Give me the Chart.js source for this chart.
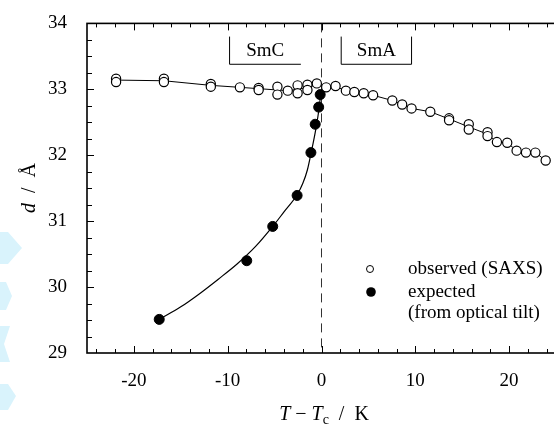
<!DOCTYPE html>
<html>
<head>
<meta charset="utf-8">
<script src="https://cdn.jsdelivr.net/npm/chart.js@4.4.0/dist/chart.umd.min.js"></script>
<style>
html, body { margin: 0; padding: 0; background: #fff; overflow: hidden; }
#wrap { position: relative; width: 562px; height: 435px; }
</style>
</head>
<body>
<div id="wrap"><canvas id="chart"></canvas></div>
<script>
// observed layer spacing (SAXS) - open circles, T - Tc in K, d in Angstrom
const obsT = [-21.9, -21.9, -16.8, -16.8, -11.8, -11.8, -8.7, -6.7, -6.7, -4.7, -4.7, -3.6,
  -2.55, -2.55, -1.5, -1.5, -0.5, 0.5, 1.5, 2.6, 3.5, 4.5, 5.5, 7.55, 8.6, 9.6, 11.6,
  13.6, 13.6, 15.7, 15.7, 17.7, 17.7, 18.7, 19.8, 20.8, 21.8, 22.8, 23.9];
const obsD = [33.16, 33.11, 33.16, 33.11, 33.08, 33.04, 33.03, 33.02, 32.99, 33.04, 32.92, 32.98,
  33.06, 32.94, 33.07, 32.99, 33.09, 33.03, 33.05, 32.98, 32.96, 32.94, 32.91, 32.83, 32.77, 32.71, 32.66,
  32.56, 32.53, 32.47, 32.39, 32.35, 32.29, 32.20, 32.19, 32.07, 32.04, 32.04, 31.92];

// thin guide line through the observed points
const obsLineT = [-21.9, -16.8, -11.8, -8.7, -6.7, -4.7, -3.6, -2.55, -1.5, -0.5, 0.5, 1.5, 2.6,
  3.5, 4.5, 5.5, 7.55, 8.6, 9.6, 11.6, 13.6, 15.7, 17.7, 18.7, 19.8, 20.8, 21.8, 22.8, 23.9];
const obsLineD = [33.14, 33.13, 33.06, 33.03, 33.01, 32.99, 32.98, 33.0, 33.03, 33.07, 33.04, 33.04, 32.98,
  32.96, 32.94, 32.91, 32.83, 32.77, 32.71, 32.66, 32.55, 32.43, 32.32, 32.20, 32.19, 32.07, 32.04, 32.04, 31.92];

// expected from optical tilt - filled circles
const expT = [-17.3, -7.97, -5.2, -2.6, -1.13, -0.67, -0.3, -0.14];
const expD = [29.51, 30.40, 30.92, 31.39, 32.04, 32.47, 32.73, 32.92];

// fitted curve through the expected values
const fitT = [-17.3, -15, -13, -11, -9, -7, -5.2, -4, -2.6, -2, -1.5, -1.13, -0.6, -0.25, -0.05];
const fitD = [29.51, 29.70, 29.90, 30.12, 30.35, 30.62, 30.92, 31.14, 31.40, 31.57, 31.78, 32.02, 32.40, 32.72, 32.98];

const xTickLabels = [-20, -10, 0, 10, 20];
const yTickLabels = [29, 30, 31, 32, 33, 34];
const phaseNames = ["SmC", "SmA"];

const serif = "'Liberation Serif', 'Times New Roman', serif";

const pts = (xs, ys) => xs.map((x, i) => ({ x: x, y: ys[i] }));

// draw text made of parts [text, italic, subscript]
const drawParts = (ctx, parts, x, y, size) => {
  let total = 0;
  const widths = parts.map(p => {
    ctx.font = (p[1] ? "italic " : "") + (p[2] ? size * 0.7 : size) + "px " + serif;
    const w = ctx.measureText(p[0]).width;
    total += w;
    return w;
  });
  let cx = x - total / 2;
  parts.forEach((p, i) => {
    ctx.font = (p[1] ? "italic " : "") + (p[2] ? size * 0.7 : size) + "px " + serif;
    ctx.fillText(p[0], cx, p[2] ? y + size * 0.25 : y);
    cx += widths[i];
  });
};

const decorPlugin = {
  id: "decor",
  beforeDraw(chart) {
    // faint light blue marks at the left edge of the scan
    const ctx = chart.ctx;
    ctx.save();
    ctx.fillStyle = "#d9f3fc";
    const shapes = [
      [[0, 232], [8, 232], [22, 248], [8, 264], [0, 264]],
      [[0, 282], [6, 282], [12, 296], [6, 310], [0, 310]],
      [[0, 326], [10, 326], [4, 344], [10, 362], [0, 362]],
      [[0, 384], [8, 384], [16, 396], [8, 410], [0, 410]],
    ];
    shapes.forEach(s => {
      ctx.beginPath();
      s.forEach((p, i) => (i ? ctx.lineTo(p[0], p[1]) : ctx.moveTo(p[0], p[1])));
      ctx.closePath();
      ctx.fill();
    });
    ctx.restore();
  },
  beforeDatasetsDraw(chart) {
    const { ctx, chartArea: a, scales: { x } } = chart;
    ctx.save();
    // dashed line at the transition
    ctx.strokeStyle = "#333";
    ctx.lineWidth = 1;
    ctx.setLineDash([9, 6]);
    ctx.beginPath();
    ctx.moveTo(x.getPixelForValue(0), a.top);
    ctx.lineTo(x.getPixelForValue(0), a.bottom);
    ctx.stroke();
    ctx.setLineDash([]);
    ctx.restore();
  },
  afterDatasetsDraw(chart) {
    const { ctx, chartArea: a, scales: { x, y } } = chart;
    ctx.save();
    ctx.strokeStyle = "#000";
    ctx.fillStyle = "#000";

    // frame
    ctx.lineWidth = 1.6;
    ctx.strokeRect(a.left, a.top, a.right - a.left, a.bottom - a.top);

    // inward ticks
    ctx.lineWidth = 1;
    ctx.beginPath();
    for (let v = -24; v <= 24; v += 2) {
      const px = Math.round(x.getPixelForValue(v)) + 0.5;
      const len = v % 10 === 0 ? 7 : 4;
      ctx.moveTo(px, a.bottom); ctx.lineTo(px, a.bottom - len);
      ctx.moveTo(px, a.top); ctx.lineTo(px, a.top + len);
    }
    for (let v = 29.25; v < 34; v += 0.25) {
      const py = Math.round(y.getPixelForValue(v)) + 0.5;
      const len = Math.abs(v - Math.round(v)) < 0.01 ? 7 : 5;
      ctx.moveTo(a.left, py); ctx.lineTo(a.left + len, py);
    }
    ctx.stroke();

    // phase boxes
    ctx.lineWidth = 1;
    const yTop = y.getPixelForValue(33.8), yBot = y.getPixelForValue(33.38);
    const c0 = x.getPixelForValue(-9.8), c1 = x.getPixelForValue(-2.2);
    const s0 = x.getPixelForValue(2.1), s1 = x.getPixelForValue(9.6);
    ctx.beginPath();
    ctx.moveTo(c0, yTop); ctx.lineTo(c0, yBot); ctx.lineTo(c1, yBot);
    ctx.moveTo(s0, yTop); ctx.lineTo(s0, yBot); ctx.lineTo(s1, yBot); ctx.lineTo(s1, yTop);
    ctx.stroke();
    ctx.font = "19px " + serif;
    ctx.textAlign = "center";
    ctx.textBaseline = "middle";
    ctx.fillText(phaseNames[0], (c0 + c1) / 2, (yTop + yBot) / 2 + 1);
    ctx.fillText(phaseNames[1], (s0 + s1) / 2, (yTop + yBot) / 2 + 1);

    // legend
    ctx.textAlign = "left";
    ctx.font = "19px " + serif;
    ctx.lineWidth = 1;
    ctx.beginPath();
    ctx.arc(370, 269, 3.5, 0, Math.PI * 2);
    ctx.fillStyle = "#fff"; ctx.fill(); ctx.stroke();
    ctx.fillStyle = "#000";
    ctx.beginPath();
    ctx.arc(371, 292, 4.8, 0, Math.PI * 2);
    ctx.fill();
    ctx.fillText(chart.data.datasets[1].label, 408, 269);
    ctx.fillText("expected", 408, 292);
    ctx.fillText("(from optical tilt)", 408, 313);

    // axis titles
    ctx.textAlign = "left";
    ctx.textBaseline = "middle";
    drawParts(ctx, [["T", true], [" \u2212 ", false], ["T", true], ["c", false, true], ["  /  K", false]], 324, 415, 20);
    ctx.translate(30, 188);
    ctx.rotate(-Math.PI / 2);
    drawParts(ctx, [["d", true], ["  /  \u00c5", false]], 0, 0, 20);
    ctx.restore();
  }
};

const ctx = document.getElementById("chart").getContext("2d");
new Chart(ctx, {
  type: "scatter",
  data: {
    datasets: [
      {
        label: "expected (from optical tilt)",
        data: pts(expT, expD),
        pointRadius: 5,
        pointBackgroundColor: "#000",
        pointBorderColor: "#000",
        pointBorderWidth: 1,
        showLine: false,
      },
      {
        label: "observed (SAXS)",
        data: pts(obsT, obsD),
        pointRadius: 4.6,
        pointBackgroundColor: "#fff",
        pointBorderColor: "#000",
        pointBorderWidth: 1.2,
        showLine: false,
      },
      {
        label: "observed line",
        data: pts(obsLineT, obsLineD),
        showLine: true,
        borderColor: "#000",
        borderWidth: 1,
        pointRadius: 0,
        tension: 0,
      },
      {
        label: "fit",
        data: pts(fitT, fitD),
        showLine: true,
        borderColor: "#000",
        borderWidth: 1.2,
        pointRadius: 0,
        cubicInterpolationMode: "monotone",
      },
    ],
  },
  options: {
    responsive: true,
    maintainAspectRatio: false,
    animation: false,
    layout: { padding: { top: 22, right: 3, left: 0, bottom: 0 } },
    plugins: { legend: { display: false }, tooltip: { enabled: false } },
    scales: {
      x: {
        type: "linear",
        min: -25,
        max: 25,
        afterBuildTicks: (s) => { s.ticks = xTickLabels.map((v) => ({ value: v })); },
        afterFit: (s) => { s.height = 82; },
        grid: { display: false },
        border: { display: false },
        ticks: { color: "#000", font: { family: serif, size: 19 }, padding: 9, maxRotation: 0 },
      },
      y: {
        type: "linear",
        min: 29,
        max: 34,
        afterBuildTicks: (s) => { s.ticks = yTickLabels.map((v) => ({ value: v })); },
        afterFit: (s) => { s.width = 87; },
        grid: { display: false },
        border: { display: false },
        ticks: { color: "#000", font: { family: serif, size: 19 }, padding: 12 },
      },
    },
  },
  plugins: [decorPlugin],
});
</script>
</body>
</html>
